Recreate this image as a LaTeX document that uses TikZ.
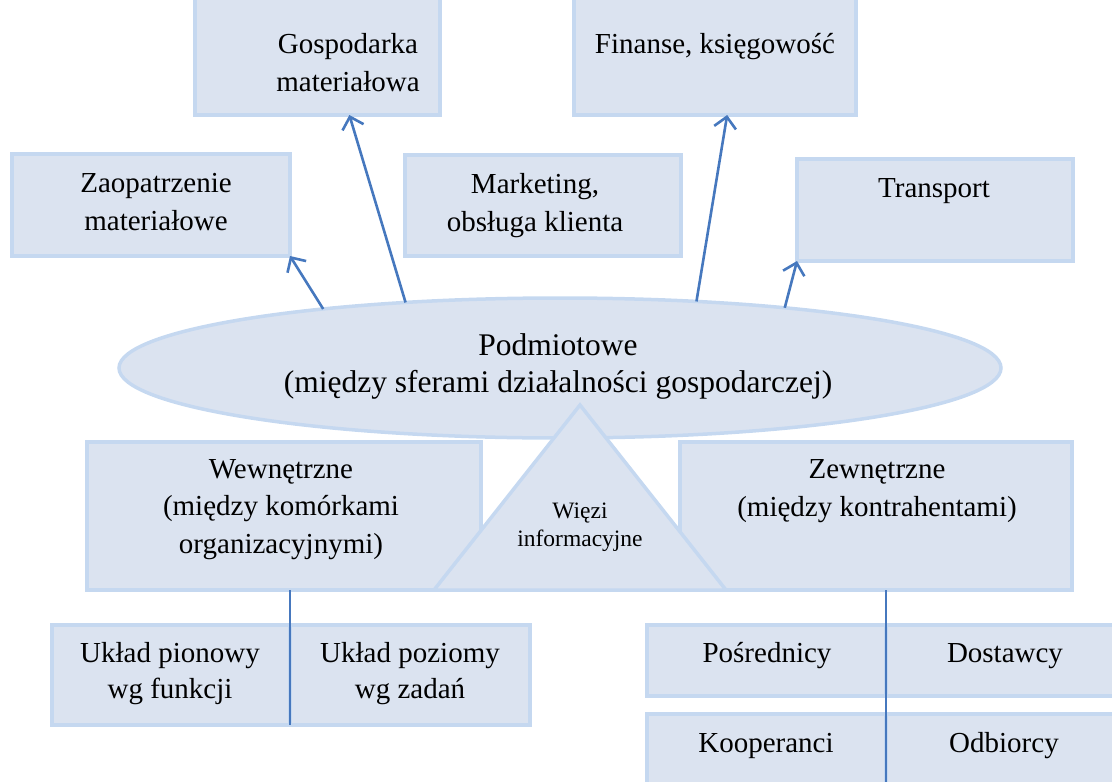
\documentclass[tikz,border=0pt]{standalone}
\usepackage{fontspec}
\setmainfont{Liberation Serif}
\usetikzlibrary{arrows.meta,calc,shapes.geometric}

\definecolor{tlo}{RGB}{219,227,240}
\definecolor{ramka}{RGB}{197,216,240}
\definecolor{strzalka}{RGB}{70,120,190}

\tikzset{
  blok/.style={draw=ramka, fill=tlo, line width=3.5pt, inner sep=0pt, outer sep=0pt},
  napis/.style={align=center, anchor=base, font=\fontsize{29}{37.5}\selectfont},
  strz/.style={draw=strzalka, line width=2.6pt, -{Straight Barb[length=11pt,width=22pt]}},
  linia/.style={draw=strzalka, line width=1.8pt}
}

\begin{document}
\begin{tikzpicture}[x=1pt,y=-1pt]
\useasboundingbox (0,0) rectangle (1112,782);

% Sfery dzialalnosci (gora)
\node[blok, minimum width=245, minimum height=125] (gosp) at (317.5,52.5) {};
\node[blok, minimum width=282, minimum height=125] (fin) at (715,52.5) {};
\node[blok, minimum width=278, minimum height=102] (zaop) at (151,205) {};
\node[blok, minimum width=276, minimum height=101] (mark) at (543,205.5) {};
\node[blok, minimum width=276, minimum height=102] (trans) at (935,210) {};

% (base = ostatnia linia)
\node[napis] (gosp-t) at (348,91) {Gospodarka\\materiałowa};
\node[napis] (fin-t) at (715,53) {Finanse, księgowość};
\node[napis] (zaop-t) at (156,230) {Zaopatrzenie\\materiałowe};
\node[napis] (mark-t) at (535,231) {Marketing,\\obsługa klienta};
\node[napis] (trans-t) at (934,197) {Transport};

% Wiezi podmiotowe
\node[blok, ellipse, minimum width=882, minimum height=140] (podm) at (560,368) {};
\node[napis, font=\fontsize{31.5}{37}\selectfont] (podm-t) at (558,392)
  {Podmiotowe\\(między sferami działalności gospodarczej)};

\draw[strz] (podm.166) -- (zaop.south east);
\draw[strz] (podm.157) -- (gosp.-63);
\draw[strz] (podm.26.5) -- (fin.-79);
\draw[strz] (podm.15.3) -- (trans.south west);

% Wiezi wewnetrzne i zewnetrzne
\node[blok, minimum width=394, minimum height=148] (wew) at (284,516) {};
\node[blok, minimum width=392, minimum height=148] (zew) at (876,516) {};
\node[napis] (wew-t) at (281,553) {Wewnętrzne\\(między komórkami\\organizacyjnymi)};
\node[napis] (zew-t) at (877,516) {Zewnętrzne\\(między kontrahentami)};

% Trojkat
\coordinate (wierz) at (580,405);
\coordinate (lewy) at (434,590);
\coordinate (prawy) at (726,590);
\draw[blok] (wierz) -- (lewy) -- (prawy) -- cycle;
\node[napis, font=\fontsize{23.5}{28}\selectfont] (wiezi-t) at (580,546) {Więzi\\informacyjne};

% Uklady (dol lewy)
\node[blok, minimum width=238, minimum height=100] (pion) at (171,675) {};
\node[blok, minimum width=240, minimum height=100] (poz) at (410,675) {};
\node[napis, font=\fontsize{29}{36}\selectfont] (pion-t) at (170,698) {Układ pionowy\\wg funkcji};
\node[napis, font=\fontsize{29}{36}\selectfont] (poz-t) at (410,698) {Układ poziomy\\wg zadań};

% Kontrahenci (dol prawy)
\node[blok, minimum width=239, minimum height=71] (posr) at (766.5,660.5) {};
\node[blok, minimum width=239, minimum height=71] (dost) at (1005.5,660.5) {};
\node[blok, minimum width=239, minimum height=86] (koop) at (766.5,757) {};
\node[blok, minimum width=239, minimum height=86] (odb) at (1005.5,757) {};
\node[napis] (posr-t) at (767,662) {Pośrednicy};
\node[napis] (dost-t) at (1005,662) {Dostawcy};
\node[napis] (koop-t) at (766,752) {Kooperanci};
\node[napis] (odb-t) at (1004,752) {Odbiorcy};

\draw[linia] (wew.south -| pion.east) -- (pion.south east);
\draw[linia] (zew.south -| posr.east) -- (koop.south east);
\end{tikzpicture}
\end{document}
